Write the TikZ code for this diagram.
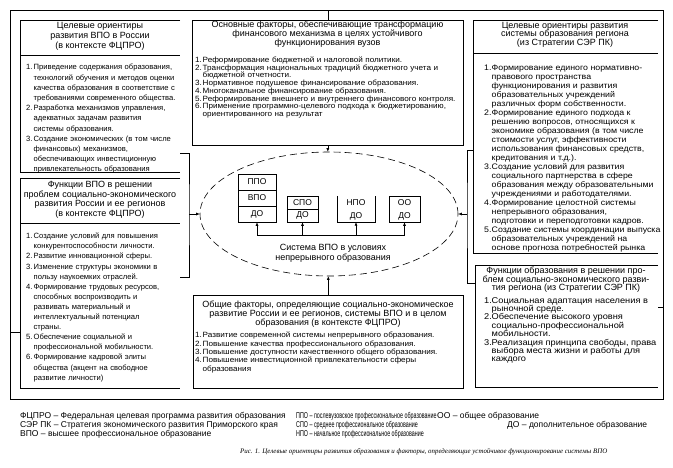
\documentclass[tikz,border=0pt]{standalone}
\usepackage{fontspec}
\setmainfont{Liberation Sans}
\newfontfamily\condfont{Liberation Sans}[FakeStretch=0.63]
\newfontfamily\itfont{Liberation Sans}[FakeStretch=1.07]
\newfontfamily\widefont{Liberation Sans}[FakeStretch=1.1]
\newfontfamily\capfont{Liberation Serif}
\usetikzlibrary{shapes.geometric,arrows.meta}
\newlength\Lind
\setlength\Lind{7.5pt}
\newlength\negskip
\setlength\negskip{-20pt}
\newcommand\nolsk{\lineskiplimit\negskip\relax}
\newcommand\Li[2]{\par\hangindent=\Lind\hangafter=1\noindent\makebox[\Lind][l]{#1}#2\par}
\tikzset{
  ln/.style={line width=0.6pt},
  arr/.style={-{Latex[length=3.5pt,width=3pt]}, line width=0.6pt},
  hd/.style={anchor=north, inner sep=0pt, align=center, font={\fontsize{9}{#1}\selectfont\nolsk}},
  items/.style={anchor=north west, inner sep=0pt, text width=280pt, align=left, font={\fontsize{7.6}{#1}\selectfont\nolsk}},
  ib/.style={draw, line width=0.6pt, inner sep=0pt, minimum width=38pt, font=\fontsize{8.5}{10}\selectfont},
  lg/.style={anchor=west, inner sep=0pt, font=\fontsize{8.5}{9}\selectfont},
}
\begin{document}
\begin{tikzpicture}[x=1pt,y=-1pt]
\useasboundingbox (0,0) rectangle (673,468);
% outer frame
\draw[ln] (10,10) rectangle (663,399);
\coordinate (ftop) at (327,10);
\coordinate (fleft) at (10,332);
\coordinate (fright) at (663,307);

% ---------- left column ----------
\draw[ln] (180,20) -- (20,20) -- (20,172) -- (180,172);
\draw[ln] (20,55) -- (180,55);
\node[hd=9.6] (b1h) at (100,22.5) {Целевые ориентиры\\развития ВПО в России\\(в контексте ФЦПРО)};
\node[items=10.2] (b1i) at (26,59.5) {%
\Li{1.}{Приведение содержания образования,\newline технологий обучения и методов оценки\newline качества образования в соответствие с\newline требованиями современного общества.}%
\Li{2.}{Разработка механизмов управления,\newline адекватных задачам развития\newline системы образования.}%
\Li{3.}{Создание экономических (в том числе\newline финансовых) механизмов,\newline обеспечивающих инвестиционную\newline привлекательность образования}};

\draw[ln] (180,178) -- (20,178) -- (20,388) -- (180,388);
\draw[ln] (20,223) -- (180,223);
\coordinate (b2l) at (20,332);
\node[hd=9.7] (b2h) at (100,181) {Функции ВПО в решении\\проблем социально-экономического\\развития России и ее регионов\\(в контексте ФЦПРО)};
\node[items=10.1] (b2i) at (26,228.5) {%
\Li{1.}{Создание условий для повышения\newline конкурентоспособности личности.}%
\Li{2.}{Развитие инновационной сферы.}%
\Li{3.}{Изменение структуры экономики в\newline пользу наукоемких отраслей.}%
\Li{4.}{Формирование трудовых ресурсов,\newline способных воспроизводить и\newline развивать материальный и\newline интеллектуальный потенциал\newline страны.}%
\Li{5.}{Обеспечение социальной и\newline профессиональной мобильности.}%
\Li{6.}{Формирование кадровой элиты\newline общества (акцент на свободное\newline развитие личности)}};

\coordinate (b1r) at (180,153);
\coordinate (b2r) at (180,277);
\coordinate (lbr) at (189,214);

% ---------- centre ----------
\node[draw, ln, anchor=north west, minimum width=271pt, minimum height=125pt, inner sep=0pt] (ctop) at (192,20) {};
\node[hd=9] (cth) at (327.5,21) {Основные факторы, обеспечивающие трансформацию\\финансового механизма в целях устойчивого\\функционирования вузов};
\node[items=7.75] (cti) at (195,54.5) {\itfont
\Li{1.}{Реформирование бюджетной и налоговой политики.}%
\Li{2.}{Трансформация национальных традиций бюджетного учета и\newline бюджетной отчетности.}%
\Li{3.}{Нормативное подушевое финансирование образования.}%
\Li{4.}{Многоканальное финансирование образования.}%
\Li{5.}{Реформирование внешнего и внутреннего финансового контроля.}%
\Li{6.}{Применение программно-целевого подхода к бюджетированию,\newline ориентированного на результат}};

\node[draw, ln, dash pattern=on 7pt off 4pt, ellipse, minimum width=258pt, minimum height=124pt, inner sep=0pt] (ell) at (329,214) {};

\node[ib, minimum height=16pt] (ppo) at (257,182) {ППО};
\node[ib, minimum height=16pt] (vpo) at (257,198) {ВПО};
\node[ib, minimum height=16pt] (doA) at (257,214) {ДО};
\node[ib, minimum width=31pt, minimum height=13pt] (spo) at (302.5,202.5) {СПО};
\node[ib, minimum width=31pt, minimum height=13pt] (doB) at (302.5,215.5) {ДО};
\node[inner sep=0pt, minimum width=38pt, minimum height=26pt] (boxC) at (356,209) {};
\draw[ln] (boxC.north west) -- (boxC.south west) -- (boxC.south east) -- (boxC.north east);
\node[inner sep=0pt, font=\fontsize{8.5}{10}\selectfont] (npo) at (356,202.5) {НПО};
\node[inner sep=0pt, font=\fontsize{8.5}{10}\selectfont] (doC) at (356,216) {ДО};
\node[ib, minimum width=31pt, minimum height=26pt] (boxD) at (404.5,209) {};
\node[inner sep=0pt, font=\fontsize{8.5}{10}\selectfont] (oo) at (404.5,202.5) {ОО};
\node[inner sep=0pt, font=\fontsize{8.5}{10}\selectfont] (doD) at (404.5,216) {ДО};

\coordinate (bus) at (330,235);
\draw[ln] (doA.south |- bus) -- (boxD.south |- bus);
\draw[arr] (doA.south |- bus) -- (doA.south);
\draw[arr] (doB.south |- bus) -- (doB.south);
\draw[arr] (boxC.south |- bus) -- (boxC.south);
\draw[arr] (boxD.south |- bus) -- (boxD.south);

\node[align=center, inner sep=0pt, font=\fontsize{9}{10}\selectfont] (elt) at (333,253) {Система ВПО в условиях\\непрерывного образования};

\node[draw, ln, anchor=north west, minimum width=270pt, minimum height=93pt, inner sep=0pt] (cbot) at (193,295) {};
\node[hd=9] (cbh) at (328,301) {Общие факторы, определяющие социально-экономическое\\развитие России и ее регионов, системы ВПО и в целом\\образования (в контексте ФЦПРО)};
\node[items=8.3] (cbi) at (195,329.5) {\itfont
\Li{1.}{Развитие современной системы непрерывного образования.}%
\Li{2.}{Повышение качества профессионального образования.}%
\Li{3.}{Повышение доступности качественного общего образования.}%
\Li{4.}{Повышение инвестиционной привлекательности сферы\newline образования}};

% ---------- right column ----------
\draw[ln] (658,20) -- (473,20) -- (473,253) -- (658,253);
\draw[ln] (473,53) -- (658,53);
\node[hd=8.6] (b3h) at (565,22) {Целевые ориентиры развития\\системы образования региона\\(из Стратегии СЭР ПК)};
\node[items=9] (b3i) at (484,61.5) {\widefont\fontsize{8}{9}\selectfont
\Li{1.}{Формирование единого нормативно-\newline правового пространства\newline функционирования и развития\newline образовательных учреждений\newline различных форм собственности.}%
\Li{2.}{Формирование единого подхода к\newline решению вопросов, относящихся к\newline экономике образования (в том числе\newline стоимости услуг, эффективности\newline использования финансовых средств,\newline кредитования и т.д.).}%
\Li{3.}{Создание условий для развития\newline социального партнерства в сфере\newline образования между образовательными\newline учреждениями и работодателями.}%
\Li{4.}{Формирование целостной системы\newline непрерывного образования,\newline подготовки и переподготовки кадров.}%
\Li{5.}{Создание системы координации выпуска\newline образовательных учреждений на\newline основе прогноза потребностей рынка}};

\draw[ln] (658,265) -- (475,265) -- (475,387) -- (658,387);
\coordinate (b4r) at (658,307);
\node[hd=8.5] (b4h) at (566,267) {Функции образования в решении про-\\блем социально-экономического разви-\\тия региона (из Стратегии СЭР ПК)};
\node[items=8.4] (b4i) at (484,294.5) {\widefont\fontsize{8.4}{8.4}\selectfont
\Li{1.}{Социальная адаптация населения в\newline рыночной среде.}%
\Li{2.}{Обеспечение высокого уровня\newline социально-профессиональной\newline мобильности.}%
\Li{3.}{Реализация принципа свободы, права\newline выбора места жизни и работы для\newline каждого}};

\coordinate (b3l) at (473,150);
\coordinate (b4l) at (475,283);
\coordinate (rbr) at (467,214);

% ---------- connectors ----------
\draw[ln] (b1r) -| (lbr) |- (b2r);
\draw[arr] (lbr) -- (ell.west);
\draw[ln] (b3l) -| (rbr) |- (b4l);
\draw[arr] (rbr) -- (ell.east);
\draw[arr] (ctop.south) -- (ctop.south |- ell.north);
\draw[arr] (cbot.north) -- (cbot.north |- ell.south);
\draw[ln] (ctop.north) -- (ctop.north |- ftop);
\draw[ln] (fleft) -- (b2l);
\draw[ln] (b4r) -- (fright);

% ---------- legend ----------
\node[lg] (l1) at (20,416) {ФЦПРО – Федеральная целевая программа развития образования};
\node[lg] (l2) at (20,425) {СЭР ПК – Стратегия экономического развития Приморского края};
\node[lg] (l3) at (20,434) {ВПО – высшее профессиональное образование};
\node[lg] (l4) at (296,416) {\condfont ППО – послевузовское профессиональное образование};
\node[lg] (l5) at (296,425) {\condfont СПО – среднее профессиональное образование};
\node[lg] (l6) at (296,434) {\condfont НПО – начальное профессиональное образование};
\node[lg] (l7) at (437,416) {ОО – общее образование};
\node[lg] (l8) at (507,425) {ДО – дополнительное образование};
\node[anchor=west, inner sep=0pt, font=\capfont\itshape\fontsize{6.9}{8}\selectfont] (cap) at (240,452) {Рис. 1. Целевые ориентиры развития образования и факторы, определяющие устойчивое функционирование системы ВПО};
\end{tikzpicture}
\end{document}
